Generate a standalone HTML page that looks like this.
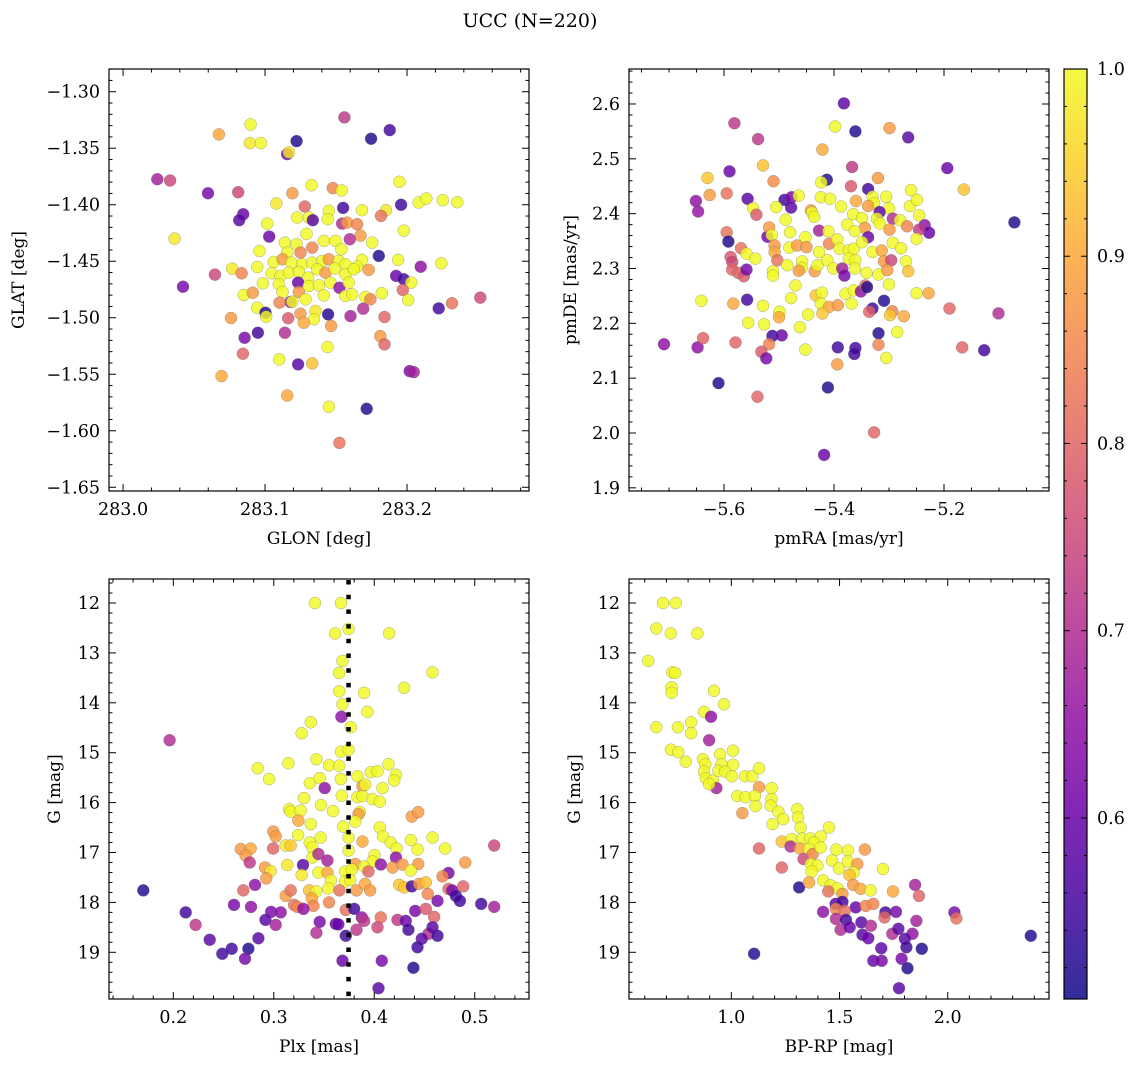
<!DOCTYPE html>
<html><head><meta charset="utf-8">
<style>
html,body{margin:0;padding:0;background:#fff;}
svg{display:block;font-family:"DejaVu Serif","Liberation Serif",serif;}
</style></head>
<body>
<svg id="fig" width="1136" height="1068" viewBox="0 0 1136 1068" xmlns="http://www.w3.org/2000/svg">
<text x="530" y="27" font-size="19" text-anchor="middle">UCC (N=220)</text>
</svg>
<script>
// ---------- Panel 1: GLON / GLAT ----------
const p1Lon = [283.1559,283.1878,283.1747,283.0898,283.0675,283.0893,283.0971,283.1222,283.1156,283.1168,283.0241,283.0331,283.0598,283.0811,283.1193,283.1327,283.1477,283.1540,283.1946,283.1079,283.1280,283.1550,283.1449,283.1683,283.1852,283.1817,283.1958,283.2082,283.2136,283.2251,283.2354,283.0846,283.0818,283.1226,283.1308,283.1336,283.1442,283.1543,283.1578,283.1648,283.1015,283.0363,283.1029,283.1292,283.1672,283.1597,283.1977,283.1754,283.1140,283.1222,283.1332,283.1414,283.1496,283.1538,283.0961,283.1156,283.1250,283.1801,283.1683,283.1937,283.2241,283.2096,283.1062,283.1123,283.1186,283.1261,283.1332,283.1402,283.1449,283.1519,283.1566,283.1648,283.1730,283.0769,283.0835,283.0647,283.0945,283.1046,283.1109,283.1168,283.1238,283.1304,283.1367,283.1426,283.1491,283.1566,283.1625,283.1923,283.1977,283.2029,283.0422,283.0985,283.1097,283.1233,283.1308,283.1379,283.1460,283.1524,283.1590,283.0850,283.0914,283.1123,283.1238,283.1414,283.1566,283.1613,283.1707,283.1742,283.1822,283.1970,283.2008,283.2317,283.2516,283.2223,283.1179,283.1102,283.1191,283.1285,283.0945,283.1003,283.1008,283.1691,283.1602,283.1444,283.1355,283.1250,283.1345,283.1273,283.1163,283.0760,283.1465,283.1841,283.0950,283.0856,283.1140,283.1812,283.1841,283.1440,283.0844,283.1100,283.1233,283.1332,283.0694,283.2019,283.2047,283.1156,283.1449,283.1716,283.1524];
const p1Lat = [-1.3227,-1.3340,-1.3416,-1.3290,-1.3378,-1.3455,-1.3455,-1.3437,-1.3552,-1.3537,-1.3774,-1.3786,-1.3898,-1.3889,-1.3898,-1.3827,-1.3853,-1.3874,-1.3797,-1.3989,-1.4016,-1.4028,-1.4054,-1.4048,-1.4048,-1.4099,-1.4001,-1.3980,-1.3945,-1.3960,-1.3978,-1.4084,-1.4137,-1.4113,-1.4113,-1.4137,-1.4128,-1.4167,-1.4158,-1.4172,-1.4167,-1.4300,-1.4282,-1.4258,-1.4273,-1.4305,-1.4229,-1.4335,-1.4335,-1.4349,-1.4379,-1.4320,-1.4320,-1.4394,-1.4409,-1.4423,-1.4423,-1.4453,-1.4488,-1.4488,-1.4518,-1.4548,-1.4506,-1.4483,-1.4512,-1.4527,-1.4512,-1.4497,-1.4483,-1.4497,-1.4527,-1.4548,-1.4577,-1.4565,-1.4607,-1.4618,-1.4551,-1.4607,-1.4630,-1.4601,-1.4595,-1.4645,-1.4571,-1.4601,-1.4565,-1.4615,-1.4571,-1.4630,-1.4660,-1.4689,-1.4725,-1.4695,-1.4704,-1.4689,-1.4719,-1.4713,-1.4689,-1.4734,-1.4689,-1.4799,-1.4778,-1.4772,-1.4772,-1.4802,-1.4807,-1.4793,-1.4816,-1.4837,-1.4784,-1.4754,-1.4843,-1.4872,-1.4822,-1.4917,-1.4861,-1.4866,-1.4858,-1.4837,-1.4911,-1.4955,-1.4991,-1.4920,-1.4985,-1.4970,-1.4940,-1.4964,-1.5014,-1.5044,-1.5005,-1.5002,-1.5073,-1.4993,-1.5132,-1.5177,-1.5132,-1.5162,-1.5236,-1.5259,-1.5318,-1.5369,-1.5413,-1.5404,-1.5516,-1.5472,-1.5481,-1.5688,-1.5788,-1.5806,-1.6107];
const p1C = [.72,.55,.52,1,.90,.98,1,.52,.60,.98,.68,.75,.62,.75,.88,1,.85,1,1,.98,.80,.55,1,1,.98,.82,.55,1,1,1,1,.60,.58,1,1,.58,1,.70,.88,.85,1,.98,.60,1,.88,.70,1,1,1,1,.85,1,1,1,1,1,.85,.52,1,1,1,.65,1,.88,1,1,1,1,.88,1,1,1,.88,.98,.85,.75,1,1,1,1,1,1,1,.88,1,1,1,.60,.55,1,.62,1,1,.60,1,1,1,.65,1,1,.88,1,.88,1,1,1,1,.85,1,.80,1,.82,.75,.55,.65,.85,1,1,1,.52,1,.70,.68,.52,.98,.88,1,.90,.78,.88,.88,.80,.55,.62,.70,.88,.80,1,.80,1,.58,.93,.90,.62,.68,.90,1,.52,.82];

// ---------- Panel 2: pmRA / pmDE ----------
const p2RA = [-5.382,-5.581,-5.398,-5.361,-5.299,-5.265,-5.538,-5.421,-5.529,-5.590,-5.367,-5.194,-5.630,-5.510,-5.320,-5.413,-5.423,-5.369,-5.338,-5.164,-5.260,-5.626,-5.595,-5.651,-5.647,-5.557,-5.490,-5.477,-5.464,-5.478,-5.547,-5.541,-5.505,-5.424,-5.407,-5.387,-5.360,-5.330,-5.305,-5.300,-5.262,-5.249,-5.245,-5.327,-5.338,-5.317,-5.072,-5.442,-5.440,-5.436,-5.488,-5.365,-5.349,-5.322,-5.293,-5.280,-5.267,-5.235,-5.227,-5.245,-5.250,-5.317,-5.344,-5.299,-5.376,-5.362,-5.338,-5.595,-5.592,-5.521,-5.518,-5.513,-5.480,-5.427,-5.410,-5.569,-5.559,-5.543,-5.508,-5.508,-5.481,-5.467,-5.452,-5.450,-5.427,-5.409,-5.394,-5.390,-5.373,-5.364,-5.349,-5.330,-5.313,-5.293,-5.278,-5.588,-5.585,-5.585,-5.574,-5.564,-5.559,-5.503,-5.485,-5.458,-5.459,-5.464,-5.435,-5.430,-5.412,-5.401,-5.385,-5.381,-5.373,-5.361,-5.362,-5.341,-5.319,-5.309,-5.296,-5.303,-5.269,-5.265,-5.511,-5.511,-5.470,-5.478,-5.433,-5.422,-5.424,-5.409,-5.421,-5.447,-5.393,-5.379,-5.368,-5.364,-5.351,-5.343,-5.340,-5.309,-5.330,-5.336,-5.294,-5.298,-5.273,-5.300,-5.250,-5.228,-5.641,-5.583,-5.558,-5.529,-5.499,-5.500,-5.556,-5.527,-5.462,-5.452,-5.190,-5.101,-5.285,-5.319,-5.709,-5.648,-5.638,-5.579,-5.512,-5.495,-5.518,-5.532,-5.523,-5.393,-5.361,-5.363,-5.319,-5.305,-5.167,-5.127,-5.394,-5.610,-5.411,-5.539,-5.327,-5.418];
const p2DE = [2.601,2.565,2.559,2.550,2.556,2.539,2.536,2.517,2.488,2.477,2.485,2.483,2.465,2.459,2.465,2.462,2.457,2.450,2.445,2.444,2.443,2.434,2.437,2.423,2.404,2.427,2.425,2.430,2.433,2.411,2.410,2.398,2.412,2.430,2.427,2.413,2.423,2.431,2.431,2.410,2.414,2.425,2.397,2.419,2.414,2.403,2.384,2.406,2.402,2.394,2.389,2.399,2.392,2.391,2.391,2.388,2.377,2.379,2.365,2.371,2.354,2.382,2.374,2.371,2.380,2.368,2.357,2.366,2.349,2.358,2.375,2.361,2.366,2.369,2.368,2.337,2.327,2.318,2.342,2.330,2.338,2.342,2.357,2.339,2.330,2.345,2.353,2.336,2.333,2.336,2.348,2.330,2.333,2.347,2.337,2.321,2.312,2.298,2.292,2.286,2.298,2.315,2.306,2.313,2.301,2.296,2.295,2.306,2.315,2.300,2.300,2.287,2.318,2.315,2.300,2.292,2.289,2.313,2.315,2.297,2.313,2.295,2.295,2.287,2.269,2.246,2.251,2.256,2.236,2.230,2.218,2.216,2.233,2.254,2.236,2.260,2.258,2.269,2.266,2.241,2.227,2.221,2.222,2.215,2.213,2.271,2.255,2.255,2.241,2.236,2.243,2.232,2.221,2.211,2.201,2.198,2.193,2.152,2.227,2.218,2.184,2.182,2.162,2.156,2.173,2.165,2.177,2.178,2.162,2.148,2.136,2.156,2.155,2.144,2.161,2.137,2.156,2.151,2.125,2.091,2.083,2.066,2.001,1.960];
const p2C = [.58,.72,1,.52,.88,.58,.72,.90,.93,.60,.72,.60,.94,.86,.88,.52,1,.78,.55,.93,1,.88,.82,.65,.66,.58,.55,.62,1,.58,1,.78,1,1,1,1,.90,1,1,1,1,1,1,1,.88,.58,.52,.88,1,1,1,1,1,1,.70,1,.85,.65,.60,.72,1,1,.88,.88,1,1,.60,.82,.52,.62,.88,1,1,.68,1,.82,1,1,.88,.90,1,.88,1,.88,1,.85,1,1,1,1,1,1,.90,1,1,.78,.75,.80,.80,.78,.62,.82,1,1,1,.88,.88,1,1,1,.68,.62,1,1,1,1,1,.88,.75,.88,1,.93,1,1,1,1,.94,1,1,.90,.94,1,.88,1,1,1,.65,.82,.52,.52,.55,.80,.85,.94,.90,1,1,.90,1,.90,.55,1,1,.90,1,1,1,1,.80,.70,1,.52,.65,.65,.80,.80,.55,.60,.85,.78,.62,.55,.55,.55,.85,1,.80,.55,.88,.52,.52,.80,.80,.60];

// ---------- Panel 3: Plx / G ----------
const p3Plx = [.3409,.3668,.3744,.3610,.4148,.3684,.3651,.4580,.4297,.3651,.3899,.3684,.3932,.3673,.3368,.3278,.3766,.1963,.3668,.3744,.3145,.3424,.2840,.2953,.3550,.3651,.3668,.3358,.3457,.3507,.3833,.3966,.4032,.4142,.4215,.4198,.3883,.3910,.4082,.3677,.3833,.3883,.3982,.4055,.3301,.3471,.3590,.3152,.3168,.3268,.3856,.3843,.3245,.3810,.3690,.3368,.4374,.4437,.4055,.2995,.3019,.3242,.3467,.3744,.3883,.4088,.4165,.4364,.4580,.5194,.2671,.2770,.2993,.3119,.3168,.3358,.3384,.3744,.4222,.4431,.4706,.2720,.2760,.3384,.3444,.3534,.3291,.3810,.4002,.3982,.3899,.4065,.4215,.4182,.4281,.4437,.2913,.2969,.3135,.3278,.3444,.3534,.3710,.3776,.3942,.4364,.4905,.4739,.2926,.4679,.2813,.2697,.1701,.3567,.3710,.3760,.3543,.3351,.3424,.3653,.3823,.3909,.3959,.4248,.4298,.4374,.4447,.4513,.4533,.4739,.4776,.4885,.4812,.4852,.3119,.3168,.3378,.3394,.3550,.3202,.3235,.3295,.2604,.2773,.2123,.2973,.3069,.3717,.3800,.4407,.4513,.4629,.5064,.5194,.4596,.2918,.3019,.3457,.3617,.3643,.3876,.3899,.4065,.4032,.4231,.4314,.4340,.3823,.3424,.3717,.2222,.2362,.2847,.2488,.2581,.2747,.2714,.4540,.4580,.4629,.4473,.4430,.3684,.4075,.4390,.4042];
const p3G = [12.00,12.00,12.52,12.61,12.61,13.16,13.40,13.39,13.70,13.77,13.80,14.03,14.18,14.28,14.39,14.61,14.49,14.75,14.98,14.94,15.21,15.13,15.31,15.53,15.25,15.26,15.53,15.61,15.51,15.71,15.47,15.39,15.37,15.23,15.44,15.56,15.67,15.64,15.71,15.86,15.89,15.87,15.93,15.98,15.91,16.05,16.17,16.13,16.18,16.16,16.19,16.23,16.36,16.38,16.48,16.43,16.28,16.19,16.50,16.58,16.68,16.65,16.70,16.70,16.78,16.68,16.80,16.75,16.70,16.86,16.93,16.92,16.92,16.86,16.86,16.80,16.90,16.96,16.92,16.94,16.92,17.06,17.20,17.10,17.03,17.16,17.25,17.23,17.05,17.18,17.28,17.24,17.10,17.30,17.24,17.23,17.30,17.37,17.25,17.45,17.40,17.40,17.38,17.34,17.38,17.36,17.20,17.41,17.52,17.48,17.65,17.76,17.76,17.56,17.58,17.55,17.72,17.76,17.78,17.76,17.76,17.63,17.76,17.65,17.70,17.68,17.63,17.60,17.83,17.73,17.76,17.68,17.87,17.97,17.87,17.76,17.92,18.07,18.00,18.05,18.09,18.13,18.05,18.09,18.20,18.19,18.20,18.15,18.13,18.17,18.13,17.97,18.03,18.09,18.29,18.35,18.45,18.39,18.43,18.44,18.30,18.37,18.30,18.50,18.35,18.37,18.55,18.55,18.61,18.67,18.45,18.75,18.72,19.03,18.93,18.93,19.13,18.63,18.50,18.67,18.73,18.90,19.17,19.17,19.31,19.72];
const p3C = [1,1,1,1,1,1,1,1,1,1,1,1,1,.65,1,1,1,.70,1,1,1,1,1,1,1,1,1,1,1,.65,1,1,1,1,1,1,.88,1,1,1,1,1,1,1,1,1,1,1,1,1,1,.88,.90,1,1,1,.88,.88,1,.88,.88,1,1,1,.90,1,1,1,1,.75,.88,.90,.80,.98,.94,1,1,1,1,1,1,.88,.72,1,.70,.68,.58,.88,1,1,1,.65,.65,.88,.88,.88,.88,.98,.98,.98,1,.90,1,1,.80,1,.88,.62,.88,.85,.65,.80,.52,1,1,1,1,.93,1,.82,.88,.90,.88,.94,.94,.55,.88,.93,.85,.80,.62,.80,.55,.55,.88,.82,.90,.85,.85,.82,.85,.65,.62,.65,.55,.62,.65,.82,.55,.62,.78,.62,.55,.68,.80,.58,.68,.62,.60,.60,.65,.72,.82,.75,.72,.60,.55,.72,.70,.55,.72,.58,.58,.55,.55,.52,.62,.70,.58,.55,.58,.55,.60,.62,.52,.58];

// ---------- Panel 4: BP-RP / G ----------
const p4BR = [0.684,0.743,0.653,0.720,0.843,0.616,0.727,0.740,0.724,0.724,0.920,0.966,0.874,0.906,0.653,0.753,0.814,0.814,0.897,0.721,0.755,0.789,0.869,0.879,0.948,1.008,0.955,1.008,0.874,0.882,0.915,0.931,0.897,0.940,0.971,1.002,1.063,1.097,1.128,1.128,1.186,1.028,1.066,1.109,1.112,1.186,1.182,1.051,1.217,1.239,1.190,1.305,1.308,1.320,1.451,1.128,1.233,1.279,1.274,1.328,1.365,1.413,1.382,1.317,1.359,1.334,1.376,1.413,1.485,1.539,1.617,1.233,1.367,1.397,1.371,1.465,1.497,1.539,1.582,1.565,1.546,1.701,1.313,1.359,1.424,1.459,1.490,1.448,1.513,1.563,1.598,1.644,1.747,1.849,1.867,1.482,1.513,1.575,1.621,1.656,1.483,1.524,1.424,1.483,1.530,1.601,1.645,1.712,1.761,1.708,1.855,2.031,2.040,1.505,1.547,1.606,1.633,1.744,1.772,1.837,1.802,1.809,1.880,1.693,1.656,1.695,1.787,1.814,1.775,1.105,2.384];
const p4G = [12.00,12.00,12.51,12.61,12.61,13.16,13.39,13.40,13.69,13.80,13.76,14.03,14.18,14.28,14.49,14.49,14.39,14.61,14.75,14.94,14.99,15.18,15.13,15.23,15.03,14.96,15.23,15.24,15.38,15.51,15.56,15.71,15.63,15.36,15.38,15.47,15.47,15.47,15.31,15.69,15.71,15.87,15.89,15.87,16.07,15.93,16.06,16.21,16.18,16.33,16.43,16.13,16.30,16.50,16.50,16.92,16.78,16.73,16.88,16.72,16.72,16.68,16.80,16.92,16.93,17.13,17.03,16.90,16.94,16.96,16.94,17.30,17.23,17.26,17.38,17.16,17.32,17.18,17.23,17.40,17.45,17.33,17.70,17.60,17.56,17.66,17.72,17.78,17.83,17.65,17.73,17.76,17.78,17.65,17.87,18.03,17.99,18.10,18.07,18.03,18.13,18.17,18.19,18.33,18.35,18.40,18.47,18.20,18.19,18.30,18.37,18.20,18.32,18.55,18.50,18.65,18.72,18.63,18.53,18.63,18.73,18.90,18.93,18.92,19.17,19.17,19.13,19.32,19.72,19.03,18.67];
const p4C = [1,1,1,1,1,1,1,1,1,1,1,1,1,.65,1,1,1,1,.68,1,1,1,1,1,1,1,1,1,1,1,1,.68,1,1,1,1,1,1,1,.88,1,1,1,1,1,1,1,.88,1,1,1,1,1,1,1,.80,.93,1,.70,1,1,1,1,.90,1,.75,.85,1,1,1,.88,.80,1,1,1,1,1,1,.88,1,.93,1,.52,.90,1,1,1,.82,.88,.88,.90,1,.90,.68,.80,.58,.55,.60,.85,.85,.85,.82,.65,.70,.55,.58,.70,.55,.62,.80,.68,.62,.82,.70,.60,.58,.60,.70,.58,.65,.58,.55,.52,.58,.60,.62,.62,.52,.58,.52,.52];

// colorbar ticks
const cbTicks = [0.6, 0.7, 0.8, 0.9, 1.0];
const cbLabels = ["0.6", "0.7", "0.8", "0.9", "1.0"];

const NS = "http://www.w3.org/2000/svg";
const svg = document.getElementById('fig');
const VMIN = 0.5033, VMAX = 1.0;
const PLASMA = ["#0d0887","#41049d","#6a00a8","#8f0da4","#b12a90","#cc4778","#e16462","#f2844b","#fca636","#fcce25","#f0f921"];
function hex(h){return [parseInt(h.substr(1,2),16),parseInt(h.substr(3,2),16),parseInt(h.substr(5,2),16)];}
function cmap(v){
  let t=(v-VMIN)/(VMAX-VMIN); t=Math.max(0,Math.min(1,t));
  const s=t*10, i=Math.min(9,Math.floor(s)), f=s-i;
  const a=hex(PLASMA[i]), b=hex(PLASMA[i+1]);
  return `rgb(${Math.round(a[0]+(b[0]-a[0])*f)},${Math.round(a[1]+(b[1]-a[1])*f)},${Math.round(a[2]+(b[2]-a[2])*f)})`;
}
function mk(tag, attrs, parent){
  const e=document.createElementNS(NS,tag);
  for(const k in attrs) e.setAttribute(k, attrs[k]);
  (parent||svg).appendChild(e); return e;
}
function fmt(v, dec){ const s=Math.abs(v).toFixed(dec); return (v<0?"\u2212":"")+s; }

function panel(opt){
  const {x0,x1,y0,y1,xd,yd,invY,name} = opt;
  const sx = v => x0 + (v-xd[0])/(xd[1]-xd[0])*(x1-x0);
  const sy = invY ? (v => y0 + (v-yd[0])/(yd[1]-yd[0])*(y1-y0))
                  : (v => y1 - (v-yd[0])/(yd[1]-yd[0])*(y1-y0));
  const g = mk('g', {});
  
  
  const pg = mk('g', {}, g);
  
  
  for(let i=0;i<opt.xs.length;i++){
    const c = mk('circle', {cx:sx(opt.xs[i]).toFixed(1), cy:sy(opt.ys[i]).toFixed(1), r:6, fill:cmap(opt.cs[i]), 'fill-opacity':0.82, stroke:'#666', 'stroke-opacity':0.55, 'stroke-width':0.5}, pg);
    
    
  }
  if(opt.extra) opt.extra(g, sx, sy);
  const fr = mk('rect', {x:x0, y:y0, width:x1-x0, height:y1-y0, fill:'none', stroke:'#000', 'stroke-width':1.2}, g);
  
  
  const eps=1e-9;
  const tg = mk('g', {stroke:'#000','stroke-width':1}, g);
  
  
  const xlo=Math.min(...xd), xhi=Math.max(...xd);
  for(let k=Math.ceil(xlo/opt.xmin-eps); k*opt.xmin<=xhi+eps; k++){
    const v=k*opt.xmin, px=sx(v);
    const major = Math.abs(v/opt.xmaj - Math.round(v/opt.xmaj))<1e-6;
    const L = major?7:3.5;
    mk('line',{x1:px,y1:y1,x2:px,y2:y1-L},tg);
    mk('line',{x1:px,y1:y0,x2:px,y2:y0+L},tg);
    if(major && px>x0+2 && px<x1-2){
      const t = mk('text',{x:px, y:y1+24, 'font-size':17.5, 'text-anchor':'middle', stroke:'none'}, g);
      t.textContent = fmt(v, opt.xdec);
      
      
    }
  }
  const ylo=Math.min(...yd), yhi=Math.max(...yd);
  for(let k=Math.ceil(ylo/opt.ymin-eps); k*opt.ymin<=yhi+eps; k++){
    const v=k*opt.ymin, py=sy(v);
    const major = Math.abs(v/opt.ymaj - Math.round(v/opt.ymaj))<1e-6;
    const L = major?7:3.5;
    mk('line',{x1:x0,y1:py,x2:x0+L,y2:py},tg);
    mk('line',{x1:x1,y1:py,x2:x1-L,y2:py},tg);
    if(major && py>y0+2 && py<y1-2){
      const t = mk('text',{x:x0-9, y:py+6, 'font-size':17.5, 'text-anchor':'end'}, g);
      t.textContent = fmt(v, opt.ydec);
      
      
    }
  }
  const xl = mk('text',{x:(x0+x1)/2, y:y1+53, 'font-size':17, 'text-anchor':'middle'}, g);
  xl.textContent = opt.xlabel;
  
  
  const yl = mk('text',{x:0, y:0, 'font-size':17, 'text-anchor':'middle', transform:`translate(${opt.ylx},${(y0+y1)/2}) rotate(-90)`}, g);
  yl.textContent = opt.ylabel;
  
  
}

panel({name:'glon-glat-panel', x0:109,x1:529,y0:69,y1:491, xd:[282.9901,283.2859], yd:[-1.6533,-1.2799],
  xs:p1Lon, ys:p1Lat, cs:p1C, xmaj:0.1, xmin:0.02, ymaj:0.05, ymin:0.01, xdec:1, ydec:2,
  xlabel:'GLON [deg]', ylabel:'GLAT [deg]', ylx:24});
panel({name:'pm-panel', x0:629,x1:1049,y0:69,y1:491, xd:[-5.7727,-5.0091], yd:[1.8942,2.6638],
  xs:p2RA, ys:p2DE, cs:p2C, xmaj:0.2, xmin:0.05, ymaj:0.1, ymin:0.02, xdec:1, ydec:1,
  xlabel:'pmRA [mas/yr]', ylabel:'pmDE [mas/yr]', ylx:576});
panel({name:'plx-g-panel', x0:109,x1:529,y0:579,y1:999, xd:[0.136,0.554], yd:[11.519,19.936], invY:true,
  xs:p3Plx, ys:p3G, cs:p3C, xmaj:0.1, xmin:0.02, ymaj:1, ymin:0.2, xdec:1, ydec:0,
  xlabel:'Plx [mas]', ylabel:'G [mag]', ylx:60,
  extra:(g,sx,sy)=>{
    const l = mk('line',{x1:sx(0.3744),x2:sx(0.3744),y1:580,y2:999,stroke:'#000','stroke-width':4.5,'stroke-dasharray':'4.5 10.2'},g);
    
    
  }});
panel({name:'cmd-panel', x0:629,x1:1049,y0:579,y1:999, xd:[0.527,2.468], yd:[11.519,19.936], invY:true,
  xs:p4BR, ys:p4G, cs:p4C, xmaj:0.5, xmin:0.1, ymaj:1, ymin:0.2, xdec:1, ydec:0,
  xlabel:'BP-RP [mag]', ylabel:'G [mag]', ylx:580});

(function(){
  const cx0=1064, cx1=1087, cy0=69, cy1=999;
  const defs = mk('defs',{});
  const grad = mk('linearGradient',{id:'plasma',x1:0,y1:1,x2:0,y2:0},defs);
  for(let i=0;i<=20;i++){
    const v = VMIN + (VMAX-VMIN)*i/20;
    mk('stop',{offset:(i/20).toFixed(3),'stop-color':cmap(v),'stop-opacity':0.85},grad);
  }
  const g = mk('g',{});
  
  
  mk('rect',{x:cx0,y:cy0,width:cx1-cx0,height:cy1-cy0,fill:'url(#plasma)'},g);
  const sy = v => cy1 - (v-VMIN)/(VMAX-VMIN)*(cy1-cy0);
  for(let k=26;k<=50;k++){
    const v=k*0.02; if(v<VMIN) continue;
    const py=sy(v);
    const major = (k%5===0);
    const L = major?6:3;
    mk('line',{x1:cx1,y1:py,x2:cx1-L,y2:py,stroke:'#000','stroke-width':1},g);
    mk('line',{x1:cx0,y1:py,x2:cx0+L,y2:py,stroke:'#000','stroke-width':1},g);
  }
  for(let i=0;i<cbTicks.length;i++){
    const t = mk('text',{x:cx1+10, y:sy(cbTicks[i])+6, 'font-size':17.5},g);
    t.textContent = cbLabels[i];
    
    
  }
  mk('rect',{x:cx0,y:cy0,width:cx1-cx0,height:cy1-cy0,fill:'none',stroke:'#000','stroke-width':1.2},g);
})();
</script>
</body></html>
